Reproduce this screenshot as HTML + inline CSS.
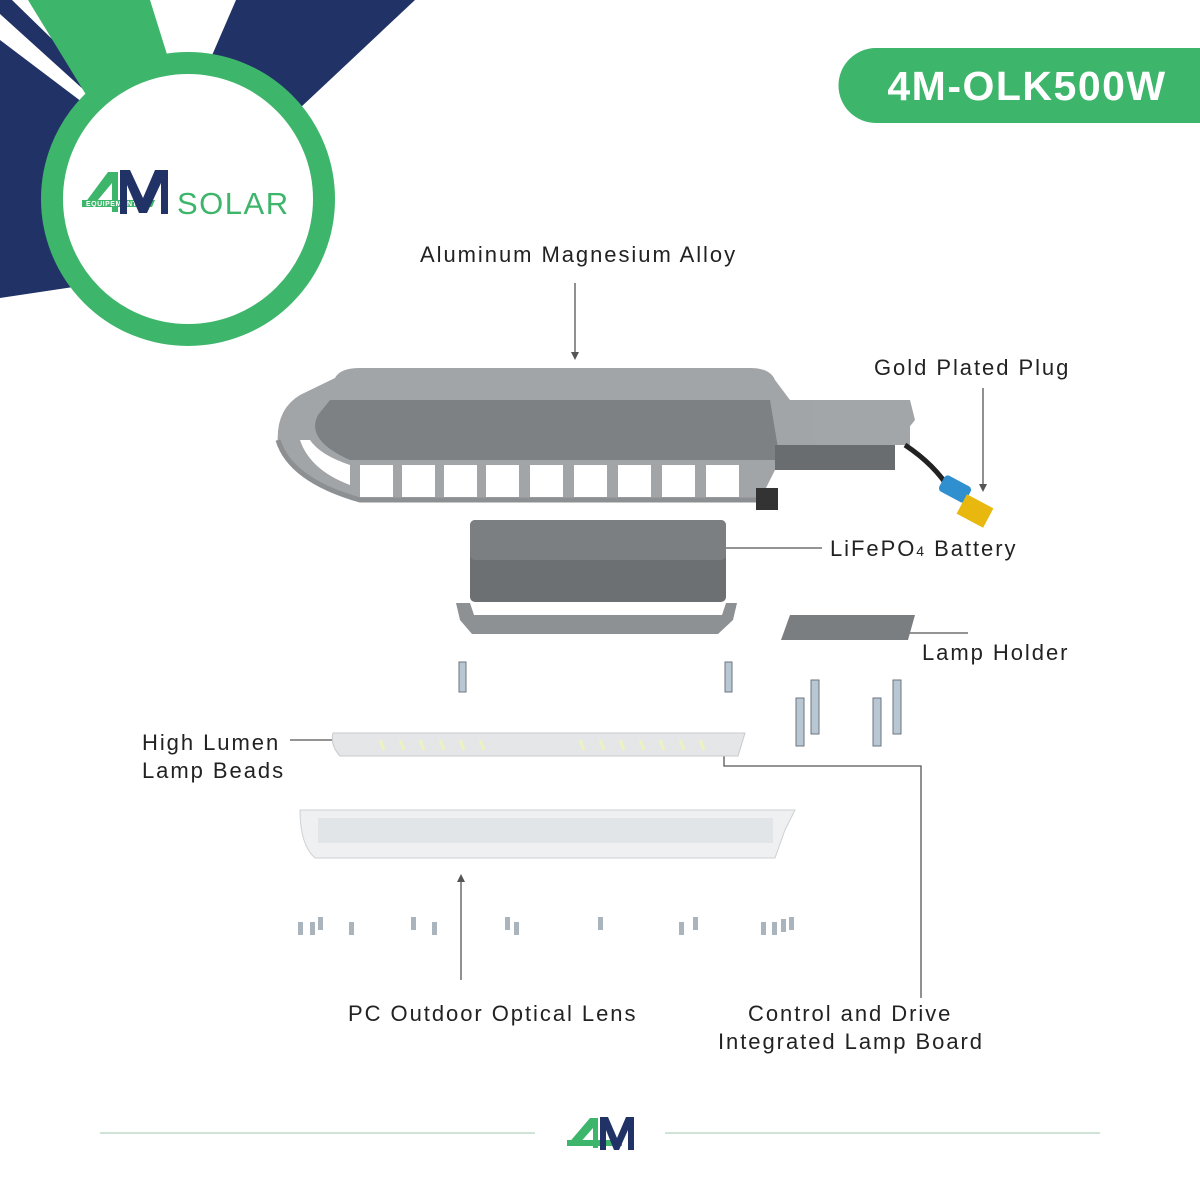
<!DOCTYPE html>
<html><head><meta charset="utf-8"><style>
html,body{margin:0;padding:0;background:#fff;}
svg{display:block;}
text{font-family:"Liberation Sans",sans-serif;}
.lb{font-size:22px;fill:#222;letter-spacing:1.95px;}
</style></head><body>
<svg width="1200" height="1200" viewBox="0 0 1200 1200" xmlns="http://www.w3.org/2000/svg">
<rect width="1200" height="1200" fill="#fff"/>
<!-- corner decor -->
<polygon points="0,40 82,102 120,280 0,298" fill="#213266"/>
<polygon points="0,0 12,0 92,78 84,90 0,14" fill="#213266"/>
<polygon points="28,0 150,0 175,80 88,98" fill="#3db56a"/>
<polygon points="236,0 415,0 300,108 210,60" fill="#213266"/>
<circle cx="188" cy="199" r="136" fill="#fff" stroke="#3db56a" stroke-width="22"/>
<!-- logo -->
<polygon points="82,207 108,172 118,172 118,212 112,212 112,183 92,207" fill="#3db56a"/>
<polygon points="82,200 155,200 152,207 82,207" fill="#3db56a"/>
<text x="86" y="206" font-size="7" fill="#fff" font-weight="bold" letter-spacing="0.5">EQUIPEMENT</text>
<polygon points="120,170 130,170 143,198 155,170 168,170 168,214 161,214 161,183 147,213 139,213 127,185 127,214 120,214" fill="#213266"/>
<text x="177" y="214" font-size="31" fill="#3db56a" letter-spacing="1.5">SOLAR</text>
<!-- pill -->
<path d="M876,48 H1200 V123 H876 A37.5,37.5 0 0 1 876,48 Z" fill="#3db56a"/>
<text x="1027" y="100" font-size="41" font-weight="bold" fill="#fff" text-anchor="middle" letter-spacing="1.5">4M-OLK500W</text>
<!-- labels -->
<text class="lb" x="420" y="262">Aluminum Magnesium Alloy</text>
<text class="lb" x="874" y="375">Gold Plated Plug</text>
<text class="lb" x="830" y="556">LiFePO<tspan font-size="14">4</tspan> Battery</text>
<text class="lb" x="922" y="660">Lamp Holder</text>
<text class="lb" x="142" y="750">High Lumen</text>
<text class="lb" x="142" y="778">Lamp Beads</text>
<text class="lb" x="348" y="1021">PC Outdoor Optical Lens</text>
<text class="lb" x="748" y="1021">Control and Drive</text>
<text class="lb" x="718" y="1049">Integrated Lamp Board</text>
<!-- leader lines -->
<g stroke="#555" stroke-width="1.3" fill="none">
<line x1="575" y1="283" x2="575" y2="356"/>
<line x1="983" y1="388" x2="983" y2="488"/>
<line x1="822" y1="548" x2="685" y2="548"/>
<line x1="968" y1="633" x2="900" y2="633"/>
<line x1="290" y1="740" x2="345" y2="740"/>
<line x1="461" y1="980" x2="461" y2="878"/>
<polyline points="921,998 921,766 724,766 724,752"/>
</g>
<g fill="#555">
<polygon points="571,352 579,352 575,360"/>
<polygon points="979,484 987,484 983,492"/>
<polygon points="687,544 687,552 681,548"/>
<polygon points="341,736 341,744 349,740"/>
<polygon points="457,882 465,882 461,874"/>
<polygon points="720,755 728,755 724,748"/>
</g>
<!-- housing -->
<g>
<path d="M335,378 Q340,368 360,368 H750 Q770,368 775,380 L790,400 H910 L915,420 L895,445 H820 L775,470 L760,500 H360 Q290,480 278,445 Q275,410 300,395 Z" fill="#a2a5a8"/>
<path d="M330,400 H770 L780,460 H350 Q305,440 318,415 Z" fill="#7e8184"/>
<g fill="#fff">
<rect x="360" y="465" width="33" height="32"/><rect x="402" y="465" width="33" height="32"/>
<rect x="444" y="465" width="33" height="32"/><rect x="486" y="465" width="33" height="32"/>
<rect x="530" y="465" width="33" height="32"/><rect x="574" y="465" width="33" height="32"/>
<rect x="618" y="465" width="33" height="32"/><rect x="662" y="465" width="33" height="32"/>
<rect x="706" y="465" width="33" height="32"/>
<path d="M300,440 Q310,470 350,485 L350,465 Q320,455 310,440 Z"/>
</g>
<path d="M278,440 Q290,480 360,500 H760" fill="none" stroke="#8d9093" stroke-width="5"/>
<rect x="815" y="400" width="95" height="45" fill="#a3a6a9"/>
<rect x="775" y="445" width="120" height="25" fill="#6a6d70"/>
<path d="M905,445 Q935,465 950,490 L975,505" stroke="#222" stroke-width="5" fill="none"/>
<rect x="940" y="480" width="30" height="18" rx="4" fill="#2f8fcf" transform="rotate(28 955 489)"/>
<rect x="960" y="500" width="30" height="22" fill="#e8b80e" transform="rotate(28 975 511)"/>
<rect x="756" y="488" width="22" height="22" fill="#333"/>
</g>
<!-- battery -->
<rect x="470" y="520" width="256" height="82" rx="5" fill="#6d7073"/>
<rect x="470" y="520" width="256" height="40" rx="5" fill="#7c7f82"/>
<!-- bracket -->
<path d="M456,603 H470 L474,615 H722 L726,603 H737 L733,620 L718,634 H472 L460,620 Z" fill="#8e9194"/>
<!-- lamp holder -->
<path d="M790,615 H915 L908,640 H781 Z" fill="#7b7e81"/>
<!-- screws -->
<g fill="#b9c7d3" stroke="#6b7580" stroke-width="1">
<rect x="459" y="662" width="7" height="30"/><rect x="725" y="662" width="7" height="30"/>
<rect x="796" y="698" width="8" height="48"/><rect x="811" y="680" width="8" height="54"/>
<rect x="873" y="698" width="8" height="48"/><rect x="893" y="680" width="8" height="54"/>
</g>
<!-- LED board -->
<path d="M333,733 H745 L738,756 H340 Q330,745 333,733 Z" fill="#e4e6e7" stroke="#c8cacc"/>
<g stroke="#eef2c0" stroke-width="3">
<line x1="380" y1="740" x2="384" y2="750"/><line x1="400" y1="740" x2="404" y2="750"/>
<line x1="420" y1="740" x2="424" y2="750"/><line x1="440" y1="740" x2="444" y2="750"/>
<line x1="460" y1="740" x2="464" y2="750"/><line x1="480" y1="740" x2="484" y2="750"/>
<line x1="580" y1="740" x2="584" y2="750"/><line x1="600" y1="740" x2="604" y2="750"/>
<line x1="620" y1="740" x2="624" y2="750"/><line x1="640" y1="740" x2="644" y2="750"/>
<line x1="660" y1="740" x2="664" y2="750"/><line x1="680" y1="740" x2="684" y2="750"/>
<line x1="700" y1="740" x2="704" y2="750"/>
</g>
<!-- lens -->
<path d="M300,810 H795 L785,830 L775,858 H315 Q300,845 300,810 Z" fill="#eef0f2" stroke="#cdd1d5"/>
<rect x="318" y="818" width="455" height="25" fill="#e2e5e8"/>
<!-- small screws -->
<g fill="#aab4bd">
<rect x="298" y="922" width="5" height="13"/><rect x="310" y="922" width="5" height="13"/><rect x="318" y="917" width="5" height="13"/>
<rect x="349" y="922" width="5" height="13"/><rect x="411" y="917" width="5" height="13"/><rect x="432" y="922" width="5" height="13"/>
<rect x="505" y="917" width="5" height="13"/><rect x="514" y="922" width="5" height="13"/><rect x="598" y="917" width="5" height="13"/>
<rect x="679" y="922" width="5" height="13"/><rect x="693" y="917" width="5" height="13"/>
<rect x="761" y="922" width="5" height="13"/><rect x="772" y="922" width="5" height="13"/><rect x="781" y="919" width="5" height="13"/><rect x="789" y="917" width="5" height="13"/>
</g>
<!-- footer -->
<line x1="100" y1="1133" x2="535" y2="1133" stroke="#cfe3d6" stroke-width="2"/>
<line x1="665" y1="1133" x2="1100" y2="1133" stroke="#cfe3d6" stroke-width="2"/>
<polygon points="567,1145 590,1118 598,1118 598,1148 593,1148 593,1128 578,1145" fill="#3db56a"/>
<rect x="567" y="1140" width="55" height="6" fill="#3db56a"/>
<polygon points="600,1117 608,1117 617,1138 626,1117 634,1117 634,1150 628,1150 628,1130 619,1150 614,1150 606,1130 606,1150 600,1150" fill="#213266"/>
</svg>
</body></html>
